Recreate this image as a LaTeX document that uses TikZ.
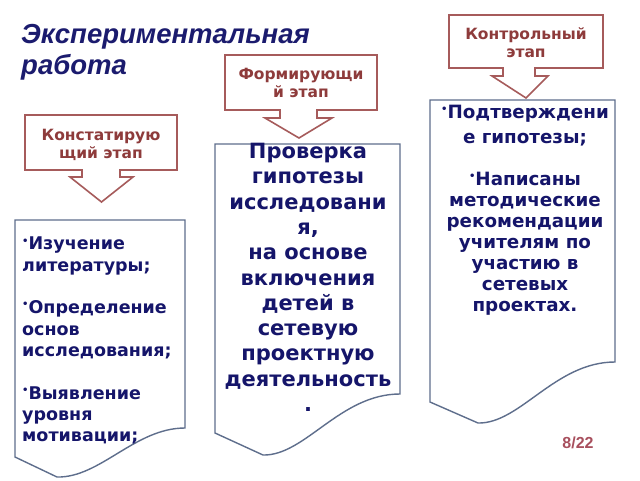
\documentclass[tikz,border=0pt]{standalone}
\usepackage{fontspec}
\setmainfont{DejaVu Sans}
\newfontfamily\headfont{Liberation Sans}
\definecolor{headblue}{HTML}{1B1B6E}
\definecolor{inkblue}{HTML}{15156A}
\definecolor{stagered}{HTML}{A65B5B}
\definecolor{stageink}{HTML}{8E3B3B}
\definecolor{sheetgrey}{HTML}{5E6E8C}
\definecolor{pagered}{HTML}{A8505E}
\newcommand{\dotitem}{\raisebox{0.34em}{\fontsize{10}{10}\selectfont•}}
\tikzset{
  stagebox/.style={draw=stagered, line width=1.6pt, line join=miter, fill=white},
  stagetext/.style={text=stageink, font=\bfseries\fontsize{15.5}{18}\selectfont, align=center, inner sep=0pt},
  sheet/.style={draw=sheetgrey, line width=1.4pt, fill=white},
  sheettext/.style={text=inkblue, inner sep=0pt},
}
\begin{document}
\begin{tikzpicture}[x=1pt, y=-1pt]
  \useasboundingbox[fill=white] (0,0) rectangle (640,480);
  % title
  \node[anchor=north west, inner sep=0pt, align=left, text=headblue,
        font=\headfont\bfseries\itshape\fontsize{27.5}{31}\selectfont] (title) at (21,24)
        {Экспериментальная\\работа};
  % stage callouts
  \draw[stagebox] (25,115) -- (177,115) -- (177,170) -- (120,170) -- (120,177) -- (133,177)
    -- (101.5,202) -- (70,177) -- (82,177) -- (82,170) -- (25,170) -- cycle;
  \node[stagetext] (konst) at (101,145) {Констатирую\\щий этап};
  \draw[stagebox] (225,55) -- (377,55) -- (377,110) -- (317,110) -- (317,118) -- (332,118)
    -- (299,138) -- (265,118) -- (280,118) -- (280,110) -- (225,110) -- cycle;
  \node[stagetext] (form) at (301,83) {Формирующи\\й этап};
  \draw[stagebox] (449,15) -- (603,15) -- (603,68) -- (535,68) -- (535,76) -- (548,76)
    -- (526,98) -- (492,76) -- (503,76) -- (503,68) -- (449,68) -- cycle;
  \node[stagetext] (kontr) at (526,42.5) {Контрольный\\этап};
  % sheets
  \draw[sheet] (15,220) -- (185,220) -- (185,428) .. controls (135,428) and (100,478) .. (57,477)
    -- (15,457) -- cycle;
  \node[sheettext, anchor=north west, align=left, font=\bfseries\fontsize{17.5}{21.3}\selectfont]
    (study) at (22,237) {\dotitem Изучение\\литературы;\\[21.3pt]\dotitem Определение\\основ\\исследования;\\[21.3pt]\dotitem Выявление\\уровня\\мотивации;};
  \draw[sheet] (215,144) -- (400,144) -- (400,394) .. controls (340,394) and (305,456) .. (263,455)
    -- (215,433) -- cycle;
  \node[sheettext, anchor=north, align=center, font=\bfseries\fontsize{21}{25.3}\selectfont]
    (check) at (308,143) {Проверка\\гипотезы\\исследовани\\я,\\на основе\\включения\\детей в\\сетевую\\проектную\\деятельность\\.};
  \draw[sheet] (430,100) -- (615,100) -- (615,362) .. controls (555,362) and (520,424) .. (478,423)
    -- (430,402) -- cycle;
  \node[sheettext, anchor=north, align=center, font=\bfseries\fontsize{18.3}{21}\selectfont]
    (result) at (525,105) {\dotitem Подтверждени\\[4pt]е гипотезы;\\[21pt]\dotitem Написаны\\методические\\рекомендации\\учителям по\\участию в\\сетевых\\проектах.};
  % page number
  \node[text=pagered, font=\headfont\bfseries\fontsize{16}{18}\selectfont] (page) at (578,443) {8/22};
\end{tikzpicture}
\end{document}
